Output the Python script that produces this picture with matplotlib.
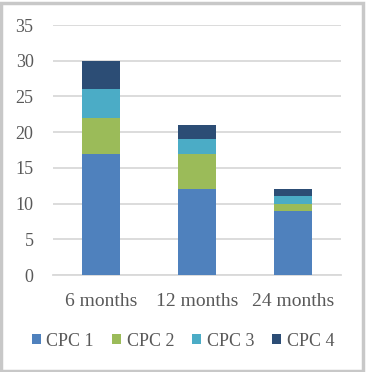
import matplotlib
matplotlib.use("Agg")
import matplotlib.pyplot as plt
from matplotlib.patches import Rectangle
import numpy as np

categories = ["6 months", "12 months", "24 months"]
series_names = ["CPC 1", "CPC 2", "CPC 3", "CPC 4"]
cpc1 = [17, 12, 9]
cpc2 = [5, 5, 1]
cpc3 = [4, 2, 1]
cpc4 = [4, 2, 1]
colors = ["#4F81BD", "#9BBB59", "#4BACC6", "#2C4D75"]

plt.rcParams['font.family'] = ['Liberation Serif', 'DejaVu Serif']
text_color = "#595959"

fig = plt.figure(figsize=(3.66, 3.72), dpi=100)
ax = fig.add_axes([53/366, 1 - 275/372, 288/366, 250/372])

x = np.arange(len(categories))
bottom = np.zeros(len(categories))
for vals, name, c in zip([cpc1, cpc2, cpc3, cpc4], series_names, colors):
    ax.bar(x, vals, width=0.4, bottom=bottom, color=c, label=name, zorder=3)
    bottom += np.array(vals)

ax.set_xlim(-0.5, 2.5)
ax.set_ylim(0, 35)
ax.set_yticks(range(0, 36, 5))
ax.set_xticks(x)
ax.set_xticklabels(categories, fontsize=14)
ax.yaxis.grid(True, color="#D9D9D9", linewidth=1.3, zorder=0)
ax.set_axisbelow(True)
for s in ["top", "right", "left"]:
    ax.spines[s].set_visible(False)
ax.spines["bottom"].set_color("#D9D9D9")
ax.spines["bottom"].set_linewidth(1.3)
ax.tick_params(axis="both", length=0, colors=text_color, labelsize=13)
ax.tick_params(axis="x", labelsize=14)
ax.tick_params(axis="y", pad=14)
ax.tick_params(axis="x", pad=13)

leg = fig.legend(loc="center", bbox_to_anchor=(0.5, 1 - 341/372), ncol=4,
                 frameon=False, fontsize=13, handlelength=0.5, handleheight=0.5,
                 handletextpad=0.3, columnspacing=1.0, labelcolor=text_color)

fig.patches.append(Rectangle((0.003, 0.004), 0.989, 0.989, transform=fig.transFigure,
                             fill=False, edgecolor="#C8C8C8", linewidth=2.5))

fig.savefig("out.png", dpi=100)
